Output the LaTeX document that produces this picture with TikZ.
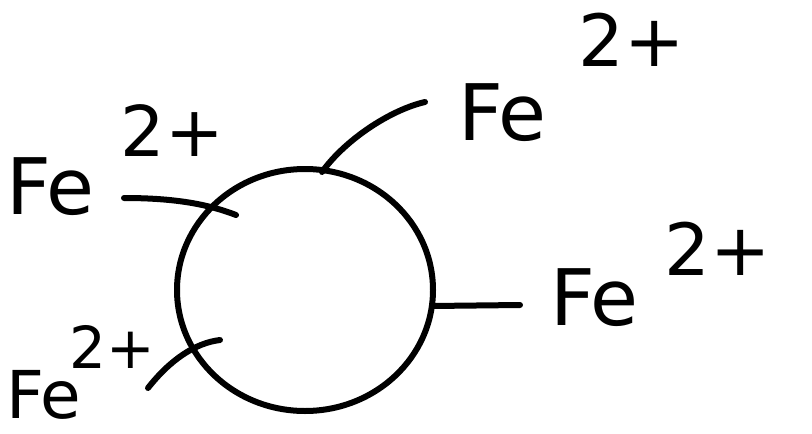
\documentclass[tikz,border=0pt]{standalone}
\usepackage{fontspec}
\setmainfont{DejaVu Sans}
\newcommand{\feion}[3]{Fe\hspace{#1pt}\raisebox{#2pt}{\fontsize{#3}{#3}\selectfont 2+}}
\begin{document}
\begin{tikzpicture}[x=1pt,y=-1pt,
  ink/.style={line width=6pt,line cap=round,line join=round},
  lbl/.style={inner sep=0pt,anchor=base west,font=\fontsize{78}{78}\selectfont}]
\useasboundingbox (0,0) rectangle (812,434);
% circle
\draw[ink] (305,290) ellipse [x radius=128, y radius=121];
\coordinate (c1) at (236,215);
\coordinate (c2) at (322,172);
\coordinate (c3) at (432,306);
\coordinate (c4) at (220,340);
% labels
\node[lbl] (fe1) at (6,214) {\feion{26}{58}{70}};
\node[lbl] (fe2) at (458,140) {\feion{32}{74}{72}};
\node[lbl] (fe3) at (550,325) {\feion{26}{50}{72}};
\node[lbl, font=\fontsize{66}{66}\selectfont] (fe4) at (6,418) {\feion{-12}{50}{58}};
\coordinate (l1) at (124,198);
\coordinate (l2) at (425,102);
\coordinate (l3) at (520,305);
\coordinate (l4) at (148,388);
% connectors
\draw[ink] (l1) .. controls (170,198) and (205,203) .. (c1);
\draw[ink] (c2) .. controls (345,140) and (390,110) .. (l2);
\draw[ink] (c3) -- (l3);
\draw[ink] (l4) .. controls (170,360) and (195,343) .. (c4);
\end{tikzpicture}
\end{document}
